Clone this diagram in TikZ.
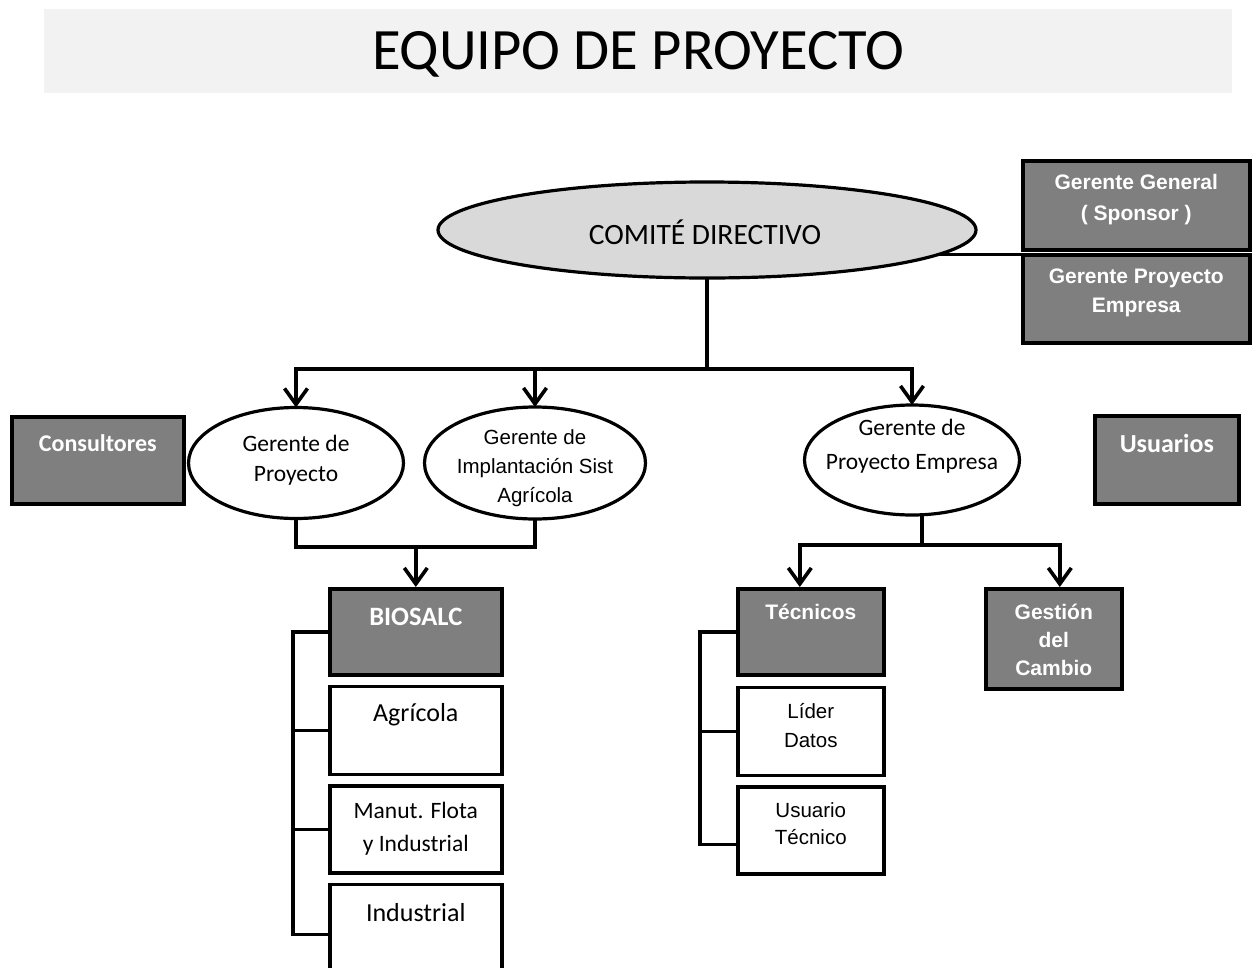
\documentclass[tikz,border=0pt]{standalone}
\usepackage{fontspec}
\setmainfont{Carlito}
\newfontfamily\arialfont{Liberation Sans}
\usepackage{tikz}
\usetikzlibrary{positioning}
\usetikzlibrary{shapes.geometric}
\usetikzlibrary{arrows.meta}
\definecolor{bandgray}{HTML}{F2F2F2}
\definecolor{ovalgray}{HTML}{D9D9D9}
\definecolor{boxgray}{HTML}{7F7F7F}
\tikzset{vtip/.tip={Straight Barb[length=16pt,width=23pt]}}

\begin{document}
\begin{tikzpicture}[x=1pt,y=-1pt,
		conn/.style={line width=3.6pt},
		oval/.style={ellipse,draw,line width=3.2pt,fill=white,inner sep=0pt,outer sep=0pt},
		darkbox/.style={rectangle,draw,line width=3.6pt,fill=boxgray,inner sep=0pt,anchor=north west},
		whitebox/.style={rectangle,draw,line width=3.6pt,fill=white,inner sep=0pt,anchor=north west},
		lbl/.style={inner sep=0pt,align=center},
		dlbl/.style={lbl,text=white}]
		\useasboundingbox (0,0) rectangle (1253,967);
		% titulo
		\node [fill=bandgray,minimum width=1188pt,minimum height=84pt,inner sep=0pt,anchor=north west] (banda) at (44,9) {};
		\node [lbl,font=\fontsize{58.6}{70}\selectfont] (titulo) at ([yshift=-3pt]banda.center) {EQUIPO DE PROYECTO};
		% comite y gerentes de arriba
		\node [oval,fill=ovalgray,minimum width=538pt,minimum height=96pt] (comite) at (707,230) {};
		\node [lbl,font=\fontsize{29.5}{35}\selectfont] (comiteT) at ([xshift=-2pt,yshift=-2pt]comite.center) {COMITÉ DIRECTIVO};
		\node [darkbox,minimum width=227pt,minimum height=89pt] (gergen) at (1021,159) {};
		\node [dlbl,font=\arialfont\bfseries\fontsize{21}{31}\selectfont] (gergenT) at ([yshift=-41pt]gergen.north) {Gerente General\\( Sponsor )};
		\node [darkbox,minimum width=227pt,minimum height=88pt] (gerpemp) at (1021,253) {};
		\node [dlbl,font=\arialfont\bfseries\fontsize{21}{29}\selectfont] (gerpempT) at ([yshift=-40pt]gerpemp.north) {Gerente Proyecto\\Empresa};
		% fila de gerentes
		\node [darkbox,minimum width=172pt,minimum height=87pt] (consult) at (10,415) {};
		\node [dlbl,font=\bfseries\fontsize{24}{29}\selectfont] (consultT) at ([yshift=-28pt]consult.north) {Consultores};
		\node [oval,minimum width=215pt,minimum height=111pt] (gp) at (296,463) {};
		\node [lbl,font=\fontsize{23.5}{30}\selectfont] (gpT) at ([yshift=3pt]gp.center) {Gerente de\\Proyecto};
		\node [oval,minimum width=221pt,minimum height=112pt] (impl) at (535,463) {};
		\node [lbl,font=\arialfont\fontsize{20.5}{29}\selectfont] (implT) at ([yshift=-5pt]impl.center) {Gerente de\\Implantación Sist\\Agrícola};
		\node [oval,minimum width=215pt,minimum height=110pt] (gpemp) at (912,460) {};
		\node [lbl,font=\fontsize{23.5}{34}\selectfont] (gpempT) at ([yshift=14pt]gpemp.center) {Gerente de\\Proyecto Empresa};
		\node [darkbox,minimum width=144pt,minimum height=88pt] (usuarios) at (1093,414) {};
		\node [dlbl,font=\bfseries\fontsize{26}{31}\selectfont] (usuariosT) at ([yshift=-29pt]usuarios.north) {Usuarios};
		% BIOSALC
		\node [darkbox,minimum width=172pt,minimum height=86pt] (biosalc) at (328,587) {};
		\node [whitebox,minimum width=172pt,minimum height=88pt,below=8pt of biosalc] (agricola) {};
		\node [whitebox,minimum width=172pt,minimum height=87pt,below=8pt of agricola] (manut) {};
		\node [whitebox,minimum width=172pt,minimum height=100pt,below=8pt of manut] (industrial) {};
		\node [dlbl,font=\bfseries\fontsize{26.5}{32}\selectfont] (biosalcT) at ([yshift=-30pt]biosalc.north) {BIOSALC};
		\node [lbl,font=\fontsize{26}{31}\selectfont] (agricolaT) at ([yshift=-30pt]agricola.north) {Agrícola};
		\node [lbl,font=\fontsize{23.5}{33}\selectfont] (manutT) at ([yshift=-45pt]manut.north) {Manut. Flota\\y Industrial};
		\node [lbl,font=\fontsize{26}{31}\selectfont] (industrialT) at ([yshift=-30pt]industrial.north) {Industrial};
		% tecnicos y cambio
		\node [darkbox,minimum width=146pt,minimum height=86pt] (tecnicos) at (736,587) {};
		\node [whitebox,minimum width=146pt,minimum height=88pt,below=9pt of tecnicos] (lider) {};
		\node [whitebox,minimum width=146pt,minimum height=87pt,below=8pt of lider] (usuariot) {};
		\node [darkbox,minimum width=136pt,minimum height=100pt] (gestion) at (984,587) {};
		\node [dlbl,font=\arialfont\bfseries\fontsize{21}{28}\selectfont] (tecnicosT) at ([yshift=-25pt]tecnicos.north) {Técnicos};
		\node [lbl,font=\arialfont\fontsize{20.5}{29}\selectfont] (liderT) at ([yshift=-40pt]lider.north) {Líder\\Datos};
		\node [lbl,font=\arialfont\fontsize{20.5}{27}\selectfont] (usuariotT) at ([yshift=-38pt]usuariot.north) {Usuario\\Técnico};
		\node [dlbl,font=\arialfont\bfseries\fontsize{21}{28}\selectfont] (gestionT) at ([yshift=-53pt]gestion.north) {Gestión\\del\\Cambio};
		% conectores
		\coordinate (bus) at (0,369);
		\coordinate (jl) at (0,547);
		\coordinate (jr) at (922,545);
		\coordinate (tecIn) at ([xshift=-11pt]tecnicos.north);
		\coordinate (gesIn) at ([xshift=6pt]gestion.north);
		\draw [conn] (comite.south) -- (comite.south |- bus);
		\draw [conn,vtip-vtip] (gp.north) -- (gp.north |- bus) -- (gpemp.north |- bus) -- (gpemp.north);
		\draw [conn,-vtip] (impl.north |- bus) -- (impl.north);
		\draw [conn] (comite.-6) -- (comite.-6 -| gerpemp.west);
		\draw [conn] (gp.south) -- (gp.south |- jl) -- (impl.south |- jl) -- (impl.south);
		\draw [conn,-vtip] (biosalc.north |- jl) -- (biosalc.north);
		\draw [conn] (gpemp.south -| jr) -- (jr);
		\draw [conn,vtip-vtip] (tecIn) -- (tecIn |- jr) -- (gesIn |- jr) -- (gesIn);
		\draw [conn] (biosalc.west) -- ++(-35,0) |- (industrial.west);
		\draw [conn] (agricola.west) -- ++(-35,0);
		\draw [conn] (manut.west) -- ++(-35,0);
		\draw [conn] (tecnicos.west) -- ++(-36,0) |- ([yshift=-14pt]usuariot.west);
		\draw [conn] (lider.west) -- ++(-36,0);
\end{tikzpicture}
\end{document}
